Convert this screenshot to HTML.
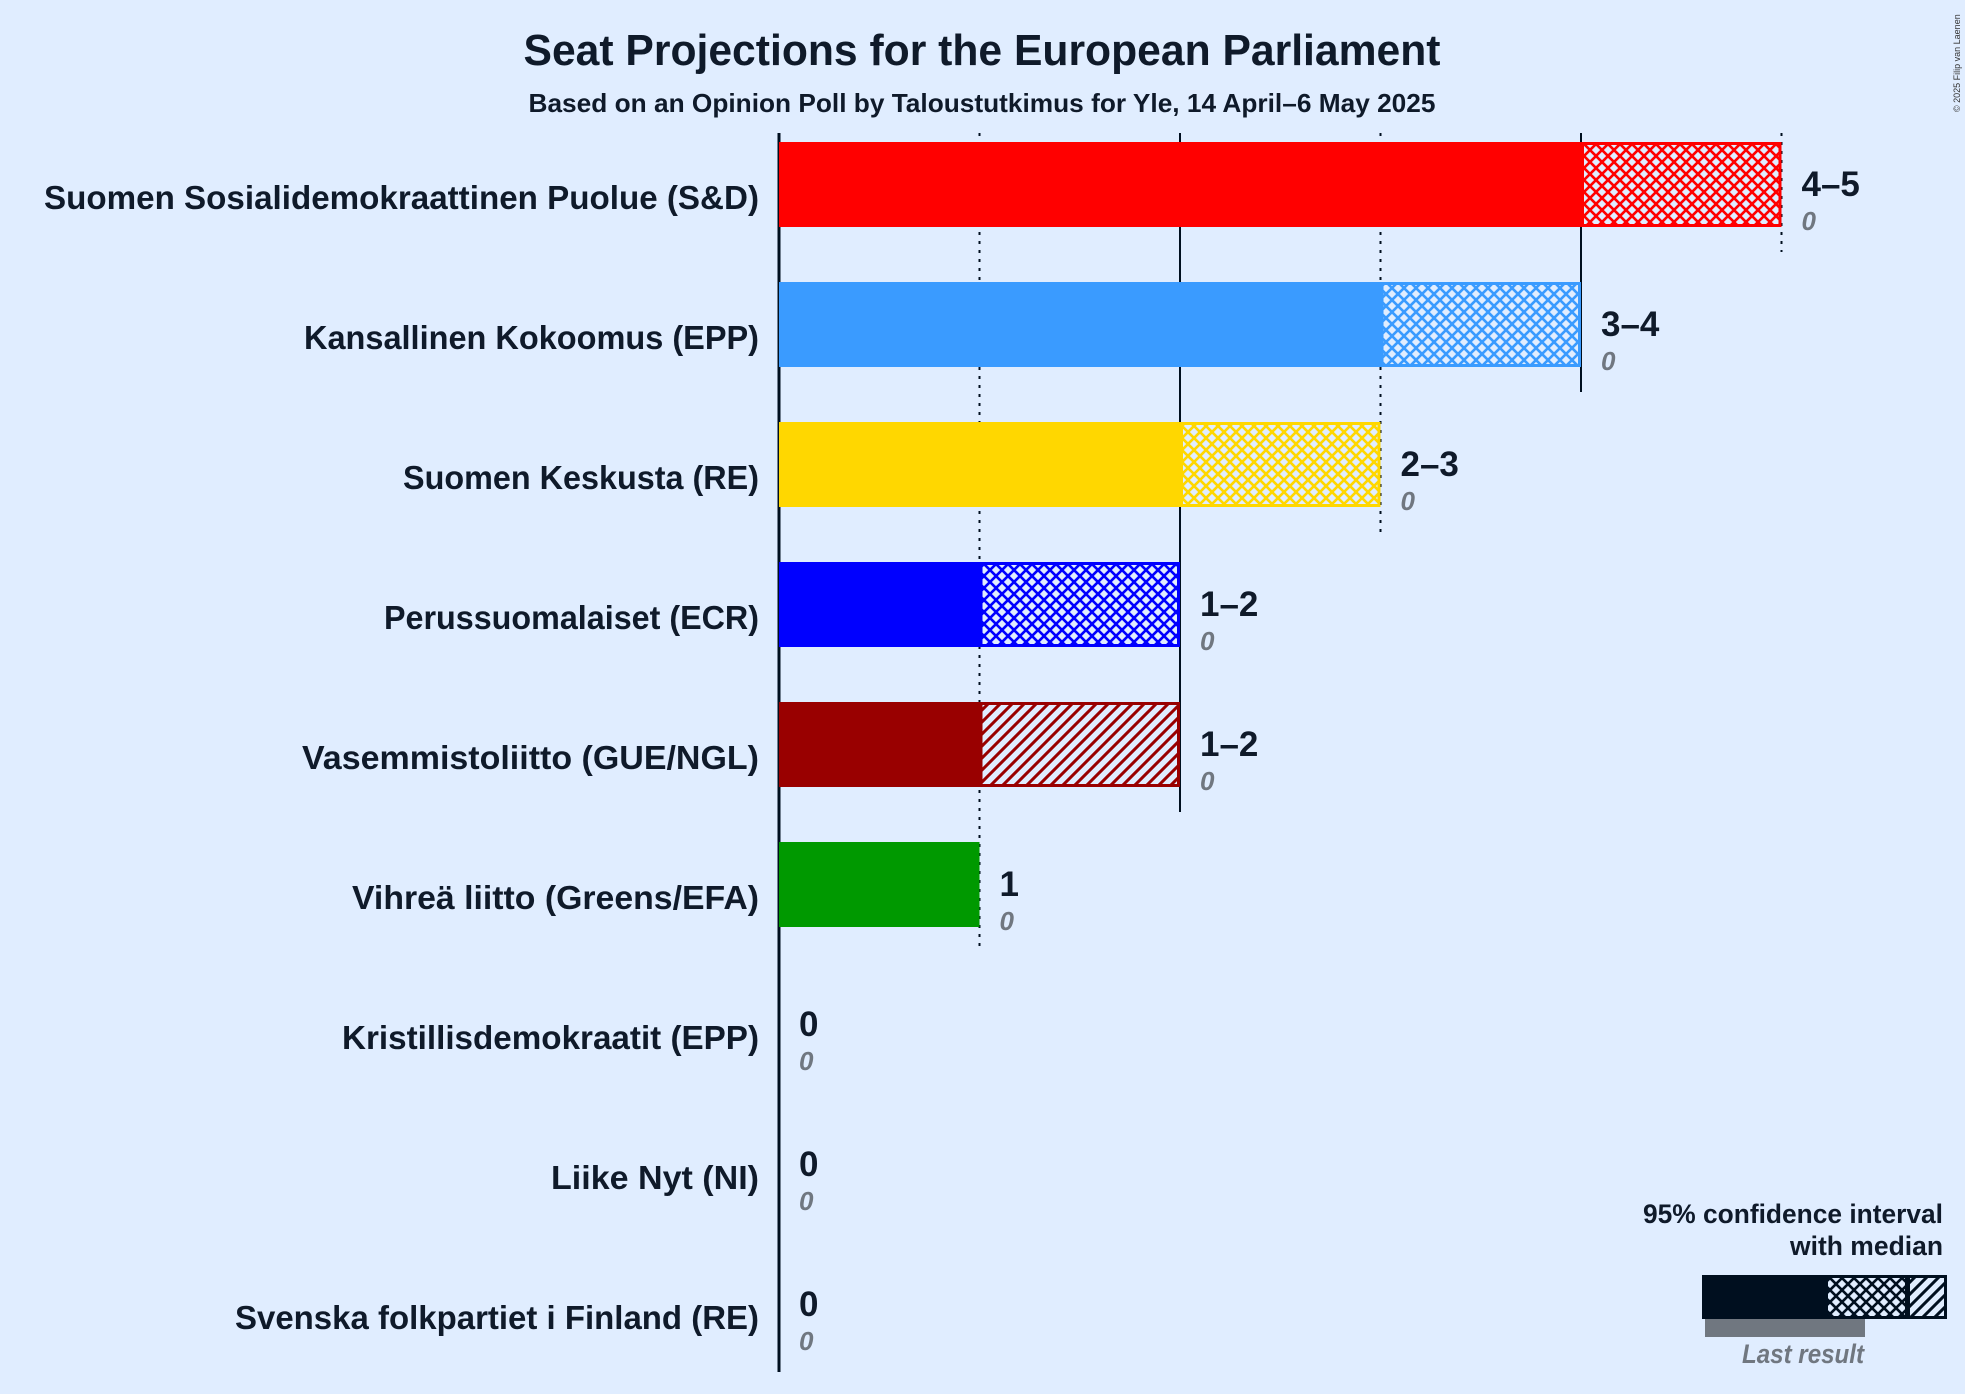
<!DOCTYPE html>
<html><head><meta charset="utf-8"><style>
html,body{margin:0;padding:0;background:#E0EDFF;}
svg{display:block;font-family:"Liberation Sans",sans-serif;}
</style></head><body>
<svg id="chart" width="1965" height="1394" viewBox="0 0 1965 1394" xmlns="http://www.w3.org/2000/svg">
<defs>
</defs>
<rect width="1965" height="1394" fill="#E0EDFF"/>
<text x="982" y="65" text-anchor="middle" font-size="44" font-weight="bold" fill="#0F1A2A" textLength="917" lengthAdjust="spacingAndGlyphs">Seat Projections for the European Parliament</text>
<text x="982" y="112" text-anchor="middle" font-size="26" font-weight="bold" fill="#0F1A2A" textLength="907" lengthAdjust="spacingAndGlyphs">Based on an Opinion Poll by Taloustutkimus for Yle, 14 April–6 May 2025</text>
<text x="0" y="0" font-size="9" fill="#333" transform="translate(1960,112) rotate(-90)">© 2025 Filip van Laenen</text>
<g id="grid"></g>
<g id="bars"></g>
<g id="labels"></g>
<g>
<text x="1943" y="1223" text-anchor="end" font-size="27" font-weight="bold" fill="#0F1A2A" textLength="300" lengthAdjust="spacingAndGlyphs">95% confidence interval</text>
<text x="1943" y="1255" text-anchor="end" font-size="27" font-weight="bold" fill="#0F1A2A" textLength="153" lengthAdjust="spacingAndGlyphs">with median</text>
<rect x="1702" y="1275" width="123" height="44" fill="#000F1F"/>
<rect x="1826.5" y="1276.5" width="80" height="41" fill="url(#p-cross-000F1F)" stroke="#000F1F" stroke-width="3"/>
<rect x="1908.5" y="1276.5" width="37" height="41" fill="url(#p-diag-000F1F)" stroke="#000F1F" stroke-width="3"/>
<rect x="1705" y="1319" width="160" height="18" fill="#707780"/>
<text x="1803" y="1363" text-anchor="middle" font-size="27" font-style="italic" font-weight="bold" fill="#707780" textLength="122" lengthAdjust="spacingAndGlyphs">Last result</text>
</g>
</svg>
<script>
const parties = ["Suomen Sosialidemokraattinen Puolue (S&D)","Kansallinen Kokoomus (EPP)","Suomen Keskusta (RE)","Perussuomalaiset (ECR)","Vasemmistoliitto (GUE/NGL)","Vihreä liitto (Greens/EFA)","Kristillisdemokraatit (EPP)","Liike Nyt (NI)","Svenska folkpartiet i Finland (RE)"];
const lowSeats = [4,3,2,1,1,1,0,0,0];
const medianSeats = [4,3,2,1,1,1,0,0,0];
const highSeats = [5,4,3,2,2,1,0,0,0];
const lastResult = [0,0,0,0,0,0,0,0,0];
const rangeLabels = ["4–5","3–4","2–3","1–2","1–2","1","0","0","0"];
const colors = ["#FF0000","#3A9BFF","#FFD700","#0000FF","#990000","#009900","#2060A0","#505050","#FFC000"];
const hatchType = ["cross","cross","cross","cross","diag","cross","cross","cross","cross"];
const gridTicks = [0,1,2,3,4,5];

const labelWidths = [715,455,356,375,457,407,417,208,524];
const NS = "http://www.w3.org/2000/svg";
const svg = document.getElementById('chart');
const defs = svg.querySelector('defs');
const x = v => 779 + v * 200.5;
const rowTop = i => 142 + i * 140;
const barH = 85;

function mk(tag, attrs, parent){const e=document.createElementNS(NS,tag);for(const k in attrs)e.setAttribute(k,attrs[k]);parent.appendChild(e);return e;}
function patterns(c){
  const id=c.replace('#','');
  if(!document.getElementById('p-cross-'+id)){
    const s=12;
    const p=mk('pattern',{id:'p-cross-'+id,patternUnits:'userSpaceOnUse',width:s,height:s},defs);
    mk('rect',{width:s,height:s,fill:'#E0EDFF'},p);
    mk('path',{d:`M-3,-3 L${s+3},${s+3} M-3,${s-3} L3,${s+3} M${s-3},-3 L${s+3},3 M-3,${s+3} L${s+3},-3 M-3,3 L3,-3 M${s-3},${s+3} L${s+3},${s-3}`,stroke:c,'stroke-width':2.6},p);
    const q=mk('pattern',{id:'p-diag-'+id,patternUnits:'userSpaceOnUse',width:12,height:12},defs);
    mk('rect',{width:12,height:12,fill:'#E0EDFF'},q);
    mk('path',{d:'M-3,15 L15,-3 M-3,3 L3,-3 M9,15 L15,9',stroke:c,'stroke-width':3},q);
  }
}
patterns('#000F1F');

const grid=document.getElementById('grid');
gridTicks.forEach(t=>{
  let last=-1; highSeats.forEach((h,i)=>{if(h>=t)last=i;});
  if(last<0)return;
  const bottom = t===0 ? rowTop(parties.length-1)+barH+25 : rowTop(last)+barH+25;
  const l=mk('line',{x1:x(t),x2:x(t),y1:133,y2:bottom,stroke:'#000F1F','stroke-width':t===0?3:2},grid);
  if(t%2===1)l.setAttribute('stroke-dasharray','3,6');
  
  
});

const bars=document.getElementById('bars'), labels=document.getElementById('labels');
parties.forEach((p,i)=>{
  const c=colors[i]; patterns(c);
  const y=rowTop(i);
  if(medianSeats[i]>0){
    const r=mk('rect',{x:x(0),y:y,width:x(medianSeats[i])-x(0),height:barH,fill:c},bars);
    
    
  }
  if(highSeats[i]>medianSeats[i]){
    const r=mk('rect',{x:x(medianSeats[i])+1.5,y:y+1.5,width:x(highSeats[i])-x(medianSeats[i])-3,height:barH-3,fill:'url(#p-'+hatchType[i]+'-'+c.replace('#','')+')',stroke:c,'stroke-width':3},bars);
    
    
  }
  const n=mk('text',{x:759,y:y+67,'text-anchor':'end','font-size':33,'font-weight':'bold',fill:'#0F1A2A',textLength:labelWidths[i],lengthAdjust:'spacingAndGlyphs'},labels);
  n.textContent=p;
  
  
  const vx=x(highSeats[i])+20;
  const v=mk('text',{x:vx,y:y+54,'font-size':35,'font-weight':'bold',fill:'#0F1A2A'},labels);
  v.textContent=rangeLabels[i];
  
  
  const lr=mk('text',{x:vx,y:y+88,'font-size':26,'font-style':'italic','font-weight':'bold',fill:'#707780'},labels);
  lr.textContent=String(lastResult[i]);
  
  
});
</script>
</body></html>
